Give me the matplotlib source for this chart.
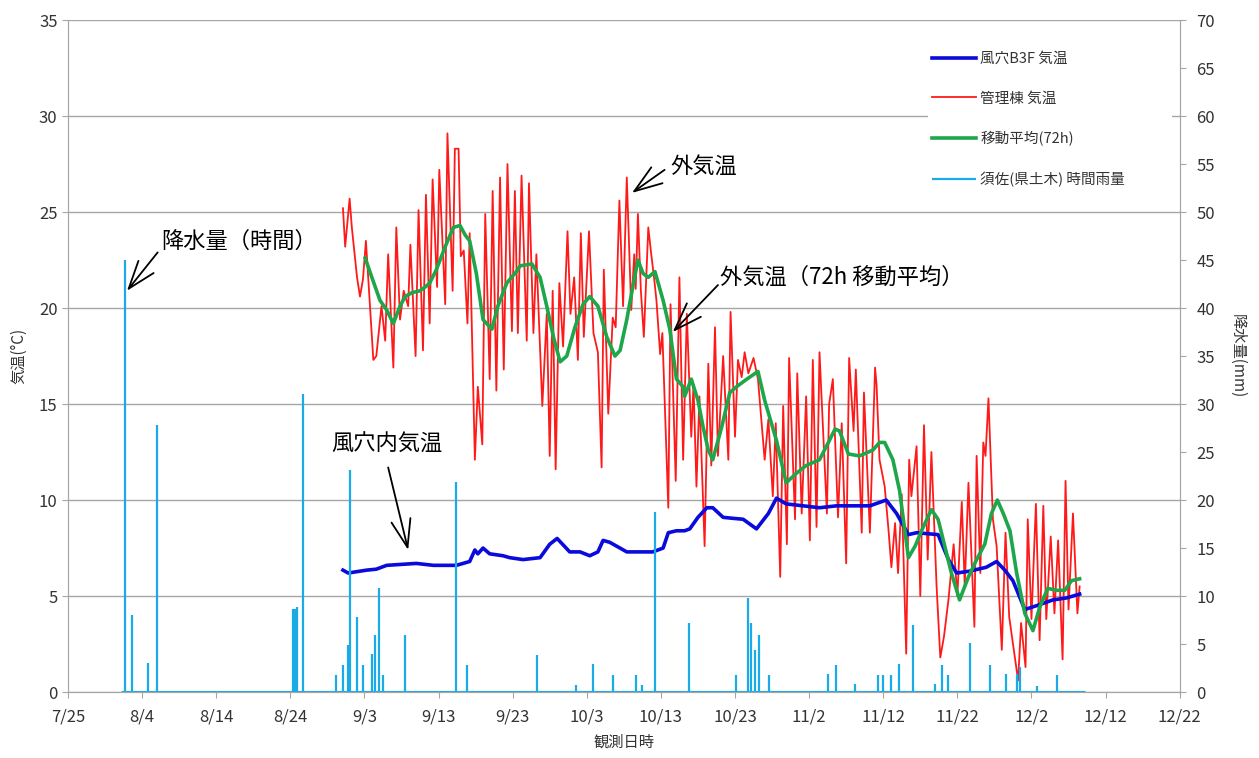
import numpy as np
import pandas as pd
import matplotlib
matplotlib.use("Agg")
import matplotlib.pyplot as plt
import matplotlib.dates as mdates
from matplotlib.ticker import FuncFormatter, MultipleLocator

plt.rcParams["font.family"] = ["Noto Sans CJK JP", "DejaVu Sans"]

# day offsets are counted from 7/25 (x axis origin)
BASE = pd.Timestamp("2013-07-25")

# outside air temperature (管理棟), daily peaks/troughs
red_days = [37.1, 37.4, 38.0, 38.3, 39.0, 39.4, 39.8, 40.2, 41.2, 41.6,
            42.3, 42.8, 43.2, 43.9, 44.3, 44.8, 45.3, 45.9, 46.2, 46.9,
            47.3, 47.9, 48.3, 48.8, 49.2, 49.8, 50.1, 50.9, 51.2, 51.9,
            52.2, 52.7, 53.0, 53.4, 53.9, 54.2, 54.9, 55.3, 55.9, 56.3,
            56.9, 57.3, 57.8, 58.3, 58.8, 59.3, 59.9, 60.3, 60.7, 61.2,
            61.9, 62.2, 62.8, 63.2, 64.0, 64.6, 65.0, 65.4, 65.8, 66.3,
            66.8, 67.4, 67.8, 68.3, 68.8, 69.2, 69.6, 70.3, 70.9, 71.5,
            72.0, 72.3, 72.9, 73.5, 73.9, 74.4, 74.9, 75.4, 76.0, 76.4,
            76.6, 76.9, 77.3, 77.7, 78.3, 78.7, 79.1, 79.4, 79.9, 80.2,
            81.0, 81.3, 82.0, 82.5, 83.0, 83.5, 84.1, 84.4, 84.8, 85.2,
            85.9, 86.4, 86.8, 87.3, 87.7, 88.4, 89.1, 89.4, 90.0, 90.4,
            90.9, 91.3, 91.8, 92.5, 93.1, 94.0, 94.5, 95.1, 95.5, 96.1,
            96.5, 97.0, 97.3, 98.1, 98.4, 99.0, 99.6, 100.1, 100.5, 101.0,
            101.4, 102.4, 102.7, 103.2, 103.9, 104.4, 105.0, 105.4, 106.0, 106.3,
            107.1, 107.4, 108.2, 108.9, 109.1, 109.5, 110.2, 110.7, 111.1, 111.6,
            112.0, 112.5, 113.1, 113.5, 113.8, 114.5, 115.0, 115.5, 116.0, 116.5,
            117.2, 117.7, 118.2, 118.8, 119.5, 120.0, 120.6, 121.0, 121.5, 122.3,
            122.6, 123.1, 123.5, 123.8, 124.2, 124.8, 125.3, 126.0, 126.5, 127.0,
            128.2, 128.6, 129.2, 129.5, 130.0, 130.6, 131.1, 131.6, 132.0, 132.6,
            133.1, 133.6, 134.2, 134.6, 135.0, 135.6, 136.2, 136.5]
red_temp = [25.2, 23.2, 25.7, 24.2, 21.6, 20.6, 21.5, 23.5, 17.3, 17.5,
            20.1, 18.3, 22.8, 16.9, 24.2, 19.4, 20.9, 20.1, 23.3, 17.5,
            25.1, 17.8, 25.9, 19.2, 26.7, 21.1, 27.2, 20.2, 29.1, 20.9,
            28.3, 28.3, 22.7, 23.0, 19.2, 23.9, 12.1, 15.9, 12.9, 24.9,
            16.3, 26.1, 15.7, 26.8, 16.8, 27.5, 18.8, 26.1, 18.7, 26.9,
            18.3, 26.5, 18.7, 22.8, 14.9, 19.7, 12.3, 20.9, 11.6, 21.3,
            18.0, 24.0, 19.7, 21.6, 17.3, 23.9, 18.5, 24.0, 18.7, 17.7,
            11.7, 22.0, 14.5, 19.5, 19.0, 25.6, 20.1, 26.8, 19.9, 22.8,
            21.0, 24.9, 20.9, 18.5, 24.2, 22.8, 21.5, 20.4, 17.6, 18.7,
            9.6, 20.2, 11.0, 21.6, 12.1, 19.7, 13.3, 16.0, 10.7, 15.4,
            7.6, 17.1, 11.8, 19.0, 12.3, 17.5, 12.1, 19.8, 13.3, 17.3,
            16.4, 17.7, 16.6, 17.4, 16.3, 12.1, 14.2, 10.2, 14.0, 6.0,
            14.9, 7.7, 17.4, 9.0, 16.6, 9.3, 15.4, 7.9, 17.3, 8.6,
            17.7, 9.3, 15.0, 16.3, 9.1, 14.0, 6.7, 17.4, 13.6, 16.8,
            8.3, 15.6, 8.3, 16.9, 16.0, 12.1, 10.7, 8.5, 6.5, 8.8,
            6.2, 10.3, 2.0, 12.1, 10.2, 12.8, 5.0, 13.9, 6.9, 12.5,
            5.5, 1.8, 2.9, 4.8, 7.7, 5.0, 9.9, 5.5, 10.9, 3.4,
            12.3, 6.2, 13.0, 12.3, 15.3, 9.0, 7.6, 2.2, 8.3, 3.9,
            0.6, 3.6, 1.3, 9.0, 3.8, 9.8, 2.7, 9.7, 3.8, 8.1,
            4.1, 7.9, 1.7, 11.0, 4.3, 9.3, 4.1, 5.5]

# 72h moving average of outside temperature
ma_days = [40.1, 41.0, 42.1, 43.0, 43.9, 44.8, 45.5, 46.4, 47.5, 48.2,
           48.8, 49.7, 50.9, 52.0, 52.9, 53.6, 54.2, 55.1, 56.0, 57.2,
           58.0, 59.2, 60.5, 61.0, 62.6, 63.7, 64.6, 65.5, 66.4, 67.3,
           68.4, 69.5, 70.4, 71.5, 72.7, 73.8, 74.5, 75.4, 76.3, 76.9,
           77.6, 78.3, 79.2, 80.3, 81.2, 82.1, 83.0, 83.2, 84.1, 85.0,
           85.7, 86.4, 87.0, 88.2, 89.3, 90.2, 91.6, 93.1, 94.0, 95.6,
           96.9, 98.3, 99.6, 101.4, 102.6, 103.5, 104.1, 105.3, 106.8, 108.6,
           109.5, 110.2, 111.3, 112.2, 113.4, 114.3, 115.4, 116.5, 117.4, 118.3,
           119.2, 120.3, 121.5, 122.6, 123.7, 124.6, 125.4, 126.2, 127.1, 128.0,
           129.1, 130.2, 131.1, 132.2, 133.4, 134.5, 135.4, 136.5]
ma_temp = [22.6, 21.6, 20.4, 19.9, 19.2, 20.1, 20.6, 20.8, 20.9, 21.1,
           21.3, 22.0, 23.2, 24.2, 24.3, 23.8, 23.5, 21.8, 19.4, 18.9,
           20.1, 21.3, 21.9, 22.2, 22.3, 21.6, 20.1, 18.5, 17.2, 17.5,
           19.0, 20.2, 20.6, 20.1, 18.5, 17.5, 17.8, 19.4, 21.3, 22.5,
           21.8, 21.6, 21.9, 20.4, 18.9, 16.3, 15.9, 15.4, 16.3, 15.2,
           13.8, 12.6, 12.1, 13.8, 15.6, 15.9, 16.3, 16.7, 15.2, 13.1,
           10.9, 11.4, 11.8, 12.1, 13.0, 13.7, 13.6, 12.4, 12.3, 12.6,
           13.0, 13.0, 12.1, 10.5, 7.0, 7.6, 8.6, 9.5, 9.0, 7.6,
           6.2, 4.8, 6.0, 6.9, 7.7, 9.3, 10.0, 9.3, 8.4, 6.2,
           4.1, 3.2, 4.4, 5.4, 5.3, 5.3, 5.8, 5.9]

# cave air temperature (風穴B3F)
cave_days = [37.1, 37.8, 40.3, 41.6, 43.0, 47.0, 49.3, 52.4, 54.2, 54.9,
             55.3, 56.0, 56.9, 58.7, 59.6, 61.4, 63.7, 65.0, 66.0, 67.7,
             69.1, 70.4, 71.5, 72.2, 73.1, 75.4, 78.9, 80.3, 81.0, 82.1,
             83.2, 83.9, 85.0, 86.2, 87.0, 88.4, 89.7, 91.1, 92.9, 94.5,
             95.6, 96.9, 99.2, 101.4, 103.7, 108.2, 110.4, 111.8, 113.4, 114.5,
             117.4, 118.8, 119.9, 121.7, 123.9, 125.3, 126.4, 127.5, 129.1, 130.7,
             132.9, 134.7, 136.5]
cave_temp = [6.35, 6.2, 6.35, 6.4, 6.6, 6.7, 6.6, 6.6, 6.8, 7.4,
             7.2, 7.5, 7.2, 7.1, 7.0, 6.9, 7.0, 7.7, 8.0, 7.3,
             7.3, 7.1, 7.3, 7.9, 7.8, 7.3, 7.3, 7.5, 8.3, 8.4,
             8.4, 8.5, 9.1, 9.6, 9.6, 9.1, 9.05, 9.0, 8.5, 9.3,
             10.1, 9.8, 9.7, 9.6, 9.7, 9.7, 10.0, 9.3, 8.2, 8.3,
             8.2, 6.9, 6.2, 6.3, 6.5, 6.8, 6.35, 5.8, 4.3, 4.5,
             4.8, 4.9, 5.1]

# hourly rainfall (須佐), non-zero hours only
rain_days = [7.7, 8.6, 10.8, 12.0, 30.3, 30.6, 30.9, 31.7, 36.2, 37.1,
             37.8, 38.1, 39.0, 39.8, 41.0, 41.4, 41.9, 42.5, 45.5, 52.3,
             53.8, 63.3, 68.5, 70.9, 73.6, 76.6, 77.4, 79.2, 83.8, 90.2,
             91.8, 92.2, 92.7, 93.3, 94.6, 102.6, 103.6, 106.2, 109.3, 110.0,
             111.0, 112.1, 114.0, 117.0, 117.9, 118.8, 121.7, 124.4, 126.6, 128.0,
             128.4, 130.7, 133.5]
rain_mm = [45.0, 8.0, 3.0, 27.8, 8.7, 8.7, 8.9, 31.0, 1.8, 2.8,
           4.9, 23.1, 7.8, 2.8, 4.0, 5.9, 10.8, 1.8, 5.9, 21.9,
           2.8, 3.9, 0.7, 2.9, 1.8, 1.8, 0.7, 18.8, 7.2, 1.8,
           9.8, 7.2, 4.4, 5.9, 1.8, 1.9, 2.8, 0.8, 1.8, 1.8,
           1.8, 2.9, 7.0, 0.8, 2.8, 1.8, 5.1, 2.8, 1.9, 1.9,
           2.6, 0.6, 1.8]
rain_record = [7.2, 137.2]   # first / last day of the rain record


def to_dt(days):
    return (BASE + pd.to_timedelta(np.asarray(days, dtype=float), unit="D")).to_numpy()


fig = plt.figure(figsize=(12.59, 7.58), dpi=100)
ax = fig.add_axes([0.054, 0.087, 0.883, 0.8865])
ax2 = ax.twinx()

GRID = "#a6a6a6"
TXT = "#333333"

l_cave, = ax.plot(to_dt(cave_days), cave_temp, color="#0a0adc", lw=2.6,
                  label="風穴B3F 気温", zorder=4)
l_out, = ax.plot(to_dt(red_days), red_temp, color="#ff1a1a", lw=1.3,
                 label="管理棟 気温", zorder=3)
l_ma, = ax.plot(to_dt(ma_days), ma_temp, color="#1ea64b", lw=2.6,
                label="移動平均(72h)", zorder=5)

rain = ax2.vlines(to_dt(rain_days), 0, rain_mm, color="#1aaae6", lw=1.6,
                  label="須佐(県土木) 時間雨量")
ax2.hlines(0, to_dt(rain_record[0]), to_dt(rain_record[1]), color="#1aaae6", lw=2.2)

ax.set_ylim(0, 35)
ax2.set_ylim(0, 70)
ax.set_xlim(to_dt(0), to_dt(150))
ax.yaxis.set_major_locator(MultipleLocator(5))
ax2.yaxis.set_major_locator(MultipleLocator(5))
ax.set_xticks(pd.date_range("2013-07-25", "2013-12-22", freq="10D"))
ax.xaxis.set_major_formatter(FuncFormatter(
    lambda v, _: f"{mdates.num2date(v).month}/{mdates.num2date(v).day}"))

ax.yaxis.grid(True, color=GRID, lw=1.0)
ax.set_axisbelow(True)
for a in (ax, ax2):
    for s in a.spines.values():
        s.set_color(GRID)
    a.spines["top"].set_visible(False)
    a.tick_params(colors=GRID, labelcolor=TXT, labelsize=12, length=4)
ax.tick_params(axis="x", pad=8)
ax2.tick_params(axis="y", pad=8)

ax.set_ylabel("気温(°C)", fontsize=11, color=TXT, labelpad=8)
ax2.set_ylabel("降水量(mm)", fontsize=11, color=TXT, rotation=270, labelpad=22)
ax.set_xlabel("観測日時", fontsize=11, color=TXT, labelpad=6)

leg = ax2.legend([l_cave, l_out, l_ma, rain],
                 [h.get_label() for h in (l_cave, l_out, l_ma, rain)],
                 loc="upper left", bbox_to_anchor=(0.731, 0.5, 0.206, 0.447),
                 mode="expand", bbox_transform=fig.transFigure, fontsize=10.5,
                 labelspacing=1.75, handlelength=3.0, handletextpad=0.3,
                 borderpad=0.3, frameon=True, fancybox=False, facecolor="white",
                 edgecolor="none", framealpha=1)
for t in leg.get_texts():
    t.set_color(TXT)

arrow = dict(arrowstyle="->,head_length=0.8,head_width=0.28", color="black",
             lw=1.3, mutation_scale=25, shrinkA=0, shrinkB=0)
notes = [("降水量（時間）", (7.96, 20.9), (12.1, 22.9), (12.6, 23.5)),
         ("風穴内気温", (45.9, 7.4), (43.2, 11.7), (35.5, 12.9)),
         ("外気温", (76.1, 26.0), (80.5, 27.2), (81.3, 27.4)),
         ("外気温（72h 移動平均）", (81.6, 18.75), (87.7, 21.2), (88.0, 21.6))]
for txt, tip, tail, pos in notes:
    ax.annotate("", xy=(to_dt(tip[0]), tip[1]), xytext=(to_dt(tail[0]), tail[1]),
                arrowprops=arrow, zorder=6)
    ax.text(to_dt(pos[0]), pos[1], txt, fontsize=16, color="black",
            ha="left", va="center", zorder=6)

fig.savefig("out.png", dpi=100, facecolor="white")
